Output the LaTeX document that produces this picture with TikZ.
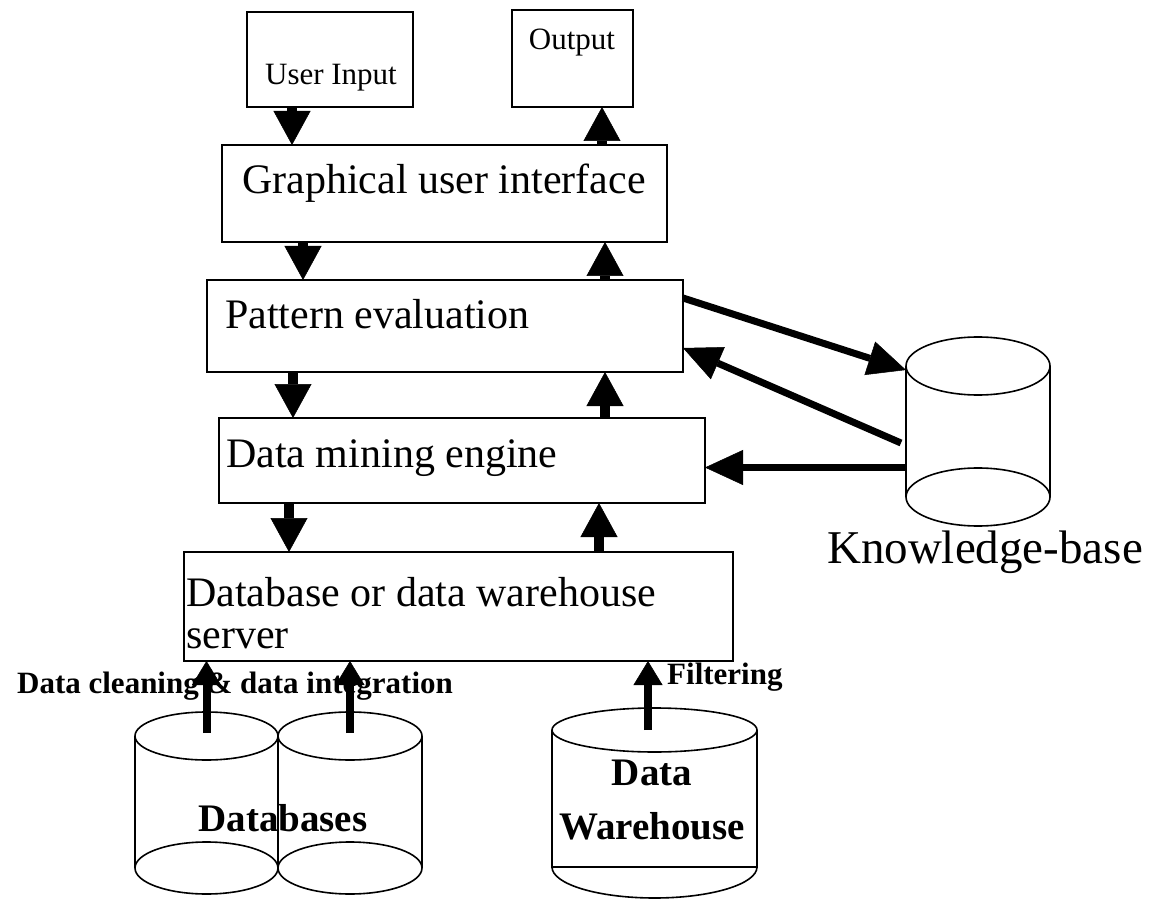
\documentclass[tikz,border=0pt]{standalone}
\usepackage{fontspec}
\setmainfont{Liberation Serif}
\usetikzlibrary{positioning}
\usetikzlibrary{arrows.meta}
\pgfdeclarelayer{background}
\pgfdeclarelayer{foreground}
\pgfsetlayers{background,main,foreground}

\begin{document}
\begin{tikzpicture}[x=1pt, y=-1pt,
						boxnode/.style={rectangle, draw=black, line width=1.3pt, inner sep=0pt, outer sep=0pt},
						cylnode/.style={rectangle, draw=none, inner sep=0pt, outer sep=0pt},
						cylline/.style={draw=black, line width=1.6pt},
						bigtext/.style={font=\fontsize{42}{42}\selectfont, inner sep=0pt},
						smalltext/.style={font=\fontsize{31}{36}\selectfont, inner sep=0pt},
						boldtext/.style={font=\bfseries\fontsize{31}{36}\selectfont, inner sep=0pt},
						cyltext/.style={font=\bfseries\fontsize{39}{54}\selectfont, inner sep=0pt, align=center},
						flowarrow/.style={line width=10pt, -{Triangle[length=34pt, width=37pt, line width=0.5pt]}},
						kbarrow/.style={line width=7pt, -{Triangle[length=38pt, width=35pt, line width=0.5pt]}},
						srcarrow/.style={line width=8pt, -{Triangle[length=24pt, width=29pt, line width=0.5pt]}},
						]
						\useasboundingbox (0,0) rectangle (1162,901);
						%Boxes
						\node[boxnode, minimum width=166, minimum height=95]	(ui)	at	(330,59.5)	{};
						\node[boxnode, minimum width=121, minimum height=97]	(out)	at	(572.5,58.5)	{};
						\node[boxnode, minimum width=445, minimum height=97]	(gui)	at	(444.5,193.5)	{};
						\node[boxnode, minimum width=476, minimum height=92]	(pe)	at	(445,326)	{};
						\node[boxnode, minimum width=486, minimum height=85]	(dm)	at	(462,460.5)	{};
						\node[boxnode, minimum width=549, minimum height=109]	(db)	at	(458.5,606.5)	{};
						
						%Cylinders
						\node[cylnode, minimum width=144, minimum height=131]	(kb)	at	(978,431.5)	{};
						\node[cylnode, minimum width=143, minimum height=132]	(db1)	at	(206.5,802)	{};
						\node[cylnode, minimum width=144, minimum height=132]	(db2)	at	(350,802)	{};
						\node[cylnode, minimum width=205, minimum height=137]	(dw)	at	(654.5,798.5)	{};
						
						\draw[cylline] (kb.north) ellipse [x radius=72pt, y radius=29pt];
						\draw[cylline] (kb.south) ellipse [x radius=72pt, y radius=29pt];
						\draw[cylline] (kb.north west) -- (kb.south west);
						\draw[cylline] (kb.north east) -- (kb.south east);
						
						\draw[cylline] (db1.north) ellipse [x radius=71.5pt, y radius=24pt];
						\draw[cylline] (db1.south) ellipse [x radius=71.5pt, y radius=26pt];
						\draw[cylline] (db2.north) ellipse [x radius=72pt, y radius=24pt];
						\draw[cylline] (db2.south) ellipse [x radius=72pt, y radius=26pt];
						\draw[cylline] (db1.north west) -- (db1.south west);
						\draw[cylline] (db1.north east) -- (db1.south east);
						\draw[cylline] (db2.north east) -- (db2.south east);
						
						\draw[cylline] (dw.north) ellipse [x radius=102.5pt, y radius=22pt];
						\draw[cylline] (dw.north west) -- (dw.south west) -- (dw.south east) -- (dw.north east);
						\draw[cylline] (dw.south west) arc [start angle=180, end angle=360, x radius=102.5pt, y radius=31pt];
						
						%Texts
						\node[smalltext]	(uitext)	at	(331,78)	{User Input};
						\node[smalltext]	(outtext)	at	(572,43)	{Output};
						\node[bigtext]	(guitext)	at	(444,183)	{Graphical user interface};
						\node[bigtext, anchor=west]	(petext)	at	(225,314)	{Pattern evaluation};
						\node[bigtext, anchor=west]	(dmtext)	at	(226,458)	{Data mining engine};
						\node[bigtext, anchor=north west, align=left]	(dbtext)	at	(186,577)	{Database or data warehouse\\server};
						\node[font=\fontsize{47}{47}\selectfont, inner sep=0pt]	(kbtext)	at	(985,552)	{Knowledge-base};
						\node[cyltext]	(dbstext)	at	(283,818)	{Databases};
						\node[cyltext]	(dwtext)	at	(652,800)	{Data\\Warehouse};
						\node[boldtext]	(cleantext)	at	(235,686)	{Data cleaning \& data integration};
						\node[boldtext, anchor=west]	(filtertext)	at	(667,677)	{Filtering};
						
						\begin{pgfonlayer}{background}
						%Lines
						\draw[flowarrow] ([xshift=-38pt]ui.south) -- ([xshift=-38pt]ui.south |- gui.north);
						\draw[flowarrow] ([xshift=157.5pt]gui.north) -- ([xshift=157.5pt]gui.north |- out.south);
						\draw[flowarrow] ([xshift=-141.5pt]gui.south) -- ([xshift=-141.5pt]gui.south |- pe.north);
						\draw[flowarrow] ([xshift=160pt]pe.north) -- ([xshift=160pt]pe.north |- gui.south);
						\draw[flowarrow] ([xshift=-152pt]pe.south) -- ([xshift=-152pt]pe.south |- dm.north);
						\draw[flowarrow] ([xshift=143pt]dm.north) -- ([xshift=143pt]dm.north |- pe.south);
						\draw[flowarrow] ([xshift=-173pt]dm.south) -- ([xshift=-173pt]dm.south |- db.north);
						\draw[flowarrow] ([xshift=140.5pt]db.north) -- ([xshift=140.5pt]db.north |- dm.south);
						
						\draw[kbarrow] ([yshift=28pt]pe.east) -- ([yshift=-4pt]kb.north west);
						\draw[kbarrow] ([xshift=-5pt,yshift=-11.5pt]kb.west) -- ([yshift=-22pt]pe.east);
						\draw[kbarrow] ([yshift=-36pt]kb.west) -- ([yshift=-36pt]kb.west -| dm.east);
						
						\draw[srcarrow] ([yshift=3pt]db1.north) -- (db1.north |- db.south);
						\draw[srcarrow] ([yshift=3pt]db2.north) -- (db2.north |- db.south);
						\draw[srcarrow] ([xshift=-6.5pt]dw.north) -- ([xshift=-6.5pt]dw.north |- db.south);
						\end{pgfonlayer}
					\end{tikzpicture}
\end{document}
